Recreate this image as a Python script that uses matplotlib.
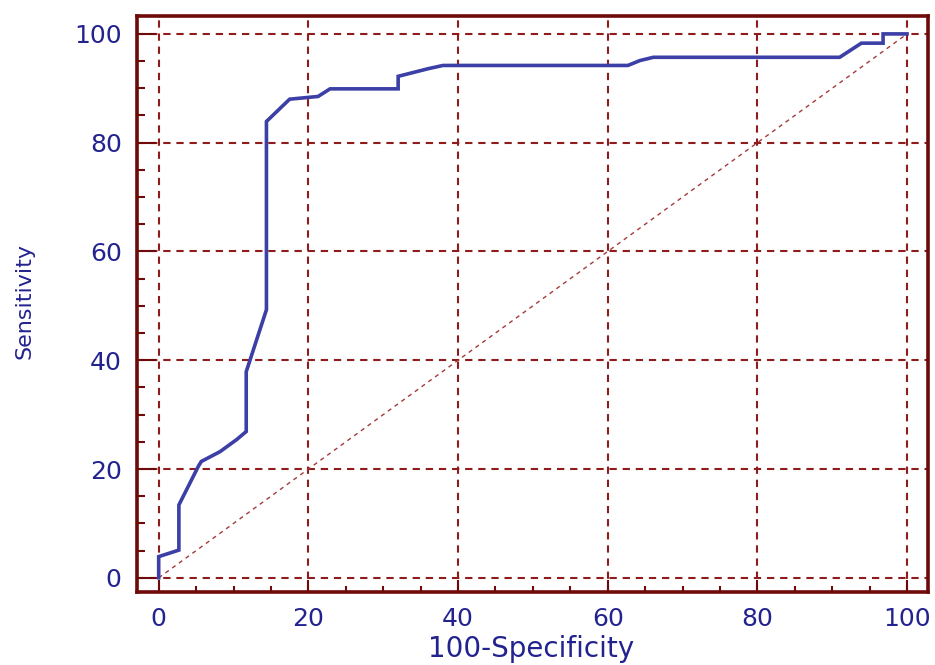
import matplotlib.pyplot as plt
from matplotlib.ticker import MultipleLocator

# ROC curve points (100-Specificity, Sensitivity)
fpr = [0.0, 0.0, 2.7, 2.7, 5.3, 5.7, 8.2, 10.4, 11.7, 11.7, 14.4, 14.4,
       17.5, 21.3, 22.9, 32.0, 32.0, 34.0, 36.0, 38.0, 62.7, 64.3, 66.1,
       91.0, 93.9, 96.8, 96.8, 100.0]
tpr = [0.0, 3.9, 5.1, 13.4, 20.5, 21.4, 23.2, 25.4, 26.9, 37.9, 49.3, 83.9,
       88.0, 88.5, 89.9, 89.9, 92.2, 92.9, 93.6, 94.2, 94.2, 95.1, 95.7,
       95.7, 98.3, 98.3, 100.0, 100.0]
diag = [0, 100]

major_ticks = [0, 20, 40, 60, 80, 100]

frame = "#6e0a0a"
grid_col = "#8e1c1c"
curve_col = "#3b3fa6"
text_col = "#23238f"
font = ["DejaVu Sans"]

fig = plt.figure(figsize=(9.35, 6.65), dpi=100)
ax = fig.add_axes([0.1465, 0.1098, 0.846, 0.8662])

ax.plot(diag, diag, color="#a33a3a", lw=1.0, linestyle=(0, (3, 3)), zorder=2)
ax.plot(fpr, tpr, color=curve_col, lw=2.6, zorder=3, solid_joinstyle="miter")

ax.set_xlim(-2.9, 102.8)
ax.set_ylim(-2.6, 103.3)
ax.set_xticks(major_ticks)
ax.set_yticks(major_ticks)
ax.xaxis.set_minor_locator(MultipleLocator(5))
ax.yaxis.set_minor_locator(MultipleLocator(5))

ax.grid(True, which="major", color=grid_col, lw=1.5, linestyle=(0, (3.5, 2.8)))
ax.set_axisbelow(True)

for sp in ax.spines.values():
    sp.set_color(frame)
    sp.set_linewidth(2.6)

ax.tick_params(axis="both", which="both", direction="in", color=frame,
               width=1.5, labelcolor=text_col, labelsize=18)
ax.tick_params(axis="y", which="major", length=14, pad=11)
ax.tick_params(axis="y", which="minor", length=6)
ax.tick_params(axis="x", which="major", length=9, pad=11)
ax.tick_params(axis="x", which="minor", length=4)

for lab in ax.get_xticklabels() + ax.get_yticklabels():
    lab.set_family(font)

ax.set_xlabel("100-Specificity", fontsize=20, color=text_col, family=font)
ax.xaxis.set_label_coords(0.498, -0.075)
ax.set_ylabel("Sensitivity", fontsize=16, color=text_col, family=font,
              va="center")
ax.yaxis.set_label_coords(-0.1416, 0.505)

fig.savefig("out.png", dpi=100)
